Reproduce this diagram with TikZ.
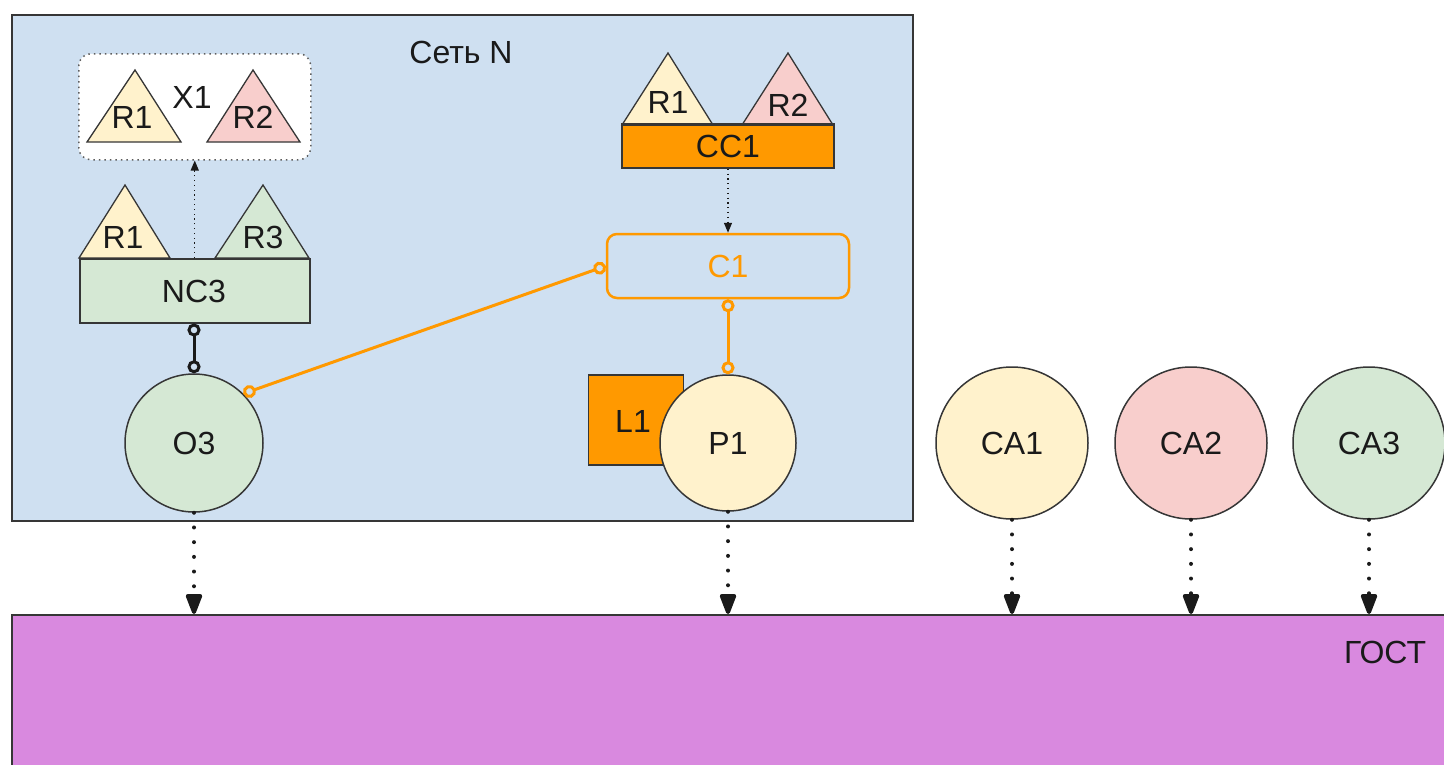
\documentclass[tikz,border=0pt]{standalone}
\usepackage{fontspec}
\setmainfont{Liberation Sans}
\usetikzlibrary{arrows.meta}
\definecolor{netblue}{RGB}{207,224,241}
\definecolor{edgec}{RGB}{54,54,54}
\definecolor{txt}{RGB}{26,26,26}
\definecolor{yel}{RGB}{255,242,204}
\definecolor{pnk}{RGB}{248,206,204}
\definecolor{grn}{RGB}{213,232,212}
\definecolor{org}{RGB}{255,153,0}
\definecolor{purp}{RGB}{217,137,223}
\begin{document}
\begin{tikzpicture}[x=1pt,y=-1pt,
  every node/.style={font=\fontsize{32}{38}\selectfont, text=txt},
  tri/.style={draw=edgec, line width=1.3},
  box/.style={draw=edgec, line width=1.5},
  circ/.style={circle, draw=edgec, line width=1.5, inner sep=0pt},
  bigdot/.style={line width=4, dash pattern=on 0pt off 14.7pt, line cap=round, -{Triangle[length=24pt,width=17pt,round=false]}, shorten >=0pt},
  smalldot/.style={line width=1.3, dash pattern=on 1.3pt off 3.5pt, -{Triangle[length=10pt,width=8pt]}},
  ovalends/.style={line width=3, {Circle[open,length=13pt,width=13pt]}-{Circle[open,length=13pt,width=13pt]}},
]
\useasboundingbox (0,0) rectangle (1444,764);

% network area
\node[box, fill=netblue, minimum width=901, minimum height=506, anchor=north west, inner sep=0pt] (net) at (11,14) {};
\node (netlbl) at (461,52) {Сеть N};

% X1
\node[draw=edgec!80, line width=1.5, dash pattern=on 1.5pt off 4pt, rounded corners=12, fill=white, minimum width=232, minimum height=106, anchor=north west, inner sep=0pt] (x1box) at (78,53) {};
\draw[tri, fill=yel] (87,142) -- (135,70) -- (181,142) -- cycle;
\node (x1r1) at (132,117) {R1};
\draw[tri, fill=pnk] (207,142) -- (253,70) -- (300,142) -- cycle;
\node (x1r2) at (253,117) {R2};
\node (x1lbl) at (192,97) {X1};

% NC3
\draw[tri, fill=yel] (79,258) -- (125,185) -- (170,258) -- cycle;
\node (ncr1) at (123,237) {R1};
\draw[tri, fill=grn] (215,258) -- (263,185) -- (309,258) -- cycle;
\node (ncr3) at (263,237) {R3};
\node[box, fill=grn, minimum width=230, minimum height=64, anchor=north west, inner sep=0pt] (nc3) at (79,258) {};
\node (nc3lbl) at (194,291) {NC3};

% CC1
\draw[tri, fill=yel] (622,125) -- (668,53) -- (713,125) -- cycle;
\node (ccr1) at (668,102) {R1};
\draw[tri, fill=pnk] (742,125) -- (788,53) -- (833,125) -- cycle;
\node (ccr2) at (788,105) {R2};
\node[box, fill=org, minimum width=212, minimum height=43, inner sep=0pt] (cc1) at (728,146.5) {CC1};
\draw[line width=3.5, edgec] (cc1.north west) -- (cc1.north east);

% C1
\node[draw=org, line width=2.5, rounded corners=10, minimum width=242, minimum height=64, inner sep=0pt, text=org] (c1) at (728,266) {C1};

% O3
\node[circ, fill=grn, minimum size=138] (o3) at (194,443) {O3};

% L1 and P1
\node[box, fill=org, minimum width=95, minimum height=90, inner sep=0pt] (l1) at (636,420) {};
\node (l1lbl) at (633,421) {L1};
\node[circ, fill=yel, minimum size=136] (p1) at (728,443) {P1};

% CA
\node[circ, fill=yel, minimum size=152] (ca1) at (1012,443) {CA1};
\node[circ, fill=pnk, minimum size=152] (ca2) at (1191,443) {CA2};
\node[circ, fill=grn, minimum size=152] (ca3) at (1369,443) {CA3};

% GOST
\node[box, fill=purp, minimum width=1480, minimum height=200, anchor=north west, inner sep=0pt] (gost) at (11,614) {};
\node (gostlbl) at (1385,652) {ГОСТ};

% connectors
\draw[smalldot, txt] (nc3.north -| x1box.south) -- (x1box.south);
\draw[smalldot, txt] (cc1.south) -- (c1.north);
\draw[ovalends, txt] (nc3.south -| o3.north) -- (o3.north);
\draw[ovalends, org] (o3.north east) -- (c1.west);
\draw[ovalends, org] (c1.south) -- (p1.north);

\foreach \n in {o3,p1,ca1,ca2,ca3}{
  \draw[bigdot, txt] (\n.south) -- (\n.south |- gost.north);
}
\end{tikzpicture}
\end{document}
